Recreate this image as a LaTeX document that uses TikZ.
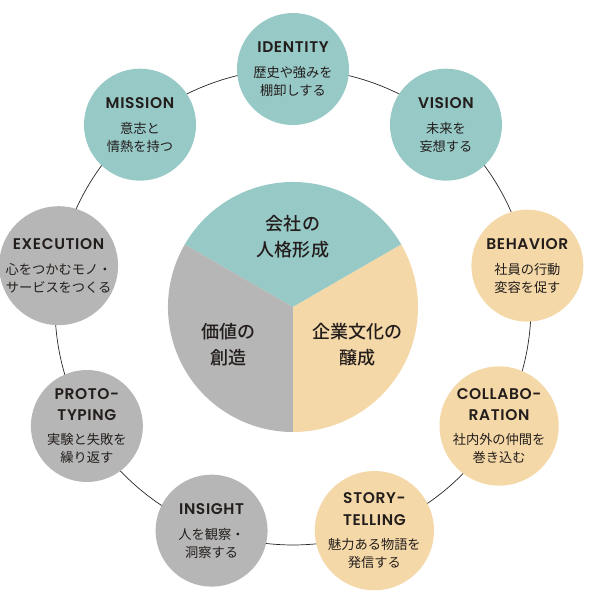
\documentclass[tikz,border=0pt]{standalone}
\usepackage{fontspec}
\setmainfont{Noto Sans CJK JP}
\newfontfamily\hdfont{Poppins}[UprightFont={* SemiBold}, LetterSpace=4]
\newfontfamily\midfont{Noto Sans CJK JP}[UprightFont={* Medium}]
\usetikzlibrary{backgrounds}
\definecolor{tealc}{RGB}{151,201,199}
\definecolor{peachc}{RGB}{245,216,168}
\definecolor{grayc}{RGB}{182,182,182}
\definecolor{inkc}{RGB}{35,30,28}
\newcommand\hd[1]{{\hdfont\fontsize{13.2}{15.3}\selectfont #1}}
\begin{document}
\begin{tikzpicture}[line width=0.6pt, text=inkc,
  bub/.style={circle, minimum size=3.36cm, inner sep=0pt, align=center,
    font=\fontsize{11.3}{15.3}\selectfont},
  tl/.style={bub, fill=tealc},
  pc/.style={bub, fill=peachc},
  gr/.style={bub, fill=grayc},
  pie/.style={align=center, inner sep=0pt, font=\midfont\fontsize{15.4}{22.2}\selectfont},
  ring/.style={draw=black!85, line width=0.6pt, bend left=20, looseness=0.88}]
  \useasboundingbox (-8.79,-8.73) rectangle (8.97,9.21);
  % 中央の円: 三つの扇形
  \coordinate (ctr) at (0,0);
  \fill[tealc] (ctr) -- (30:3.75) arc (30:150:3.75) -- cycle;
  \fill[peachc] (ctr) -- (-90:3.75) arc (-90:30:3.75) -- cycle;
  \fill[grayc] (ctr) -- (150:3.75) arc (150:270:3.75) -- cycle;
  \node[pie] (p1) at (90:2.12) {会社の\\人格形成};
  \node[pie] (p2) at (330:2.24) {企業文化の\\醸成};
  \node[pie] (p3) at (210:2.24) {価値の\\創造};
  % 周りの九つの円 (半径 7.14, 40度おき)
  \node[tl] (ident) at (90:7.14) {\hd{IDENTITY}\\[6pt]歴史や強みを\\棚卸しする};
  \node[tl] (vis) at (50:7.14) {\hd{VISION}\\[6pt]未来を\\妄想する};
  \node[pc] (beh) at (10:7.14) {\hd{BEHAVIOR}\\[6pt]社員の行動\\変容を促す};
  \node[pc] (coll) at (-30:7.14) {\hd{COLLABO-}\\[3pt]\hd{RATION}\\[5pt]社内外の仲間を\\巻き込む};
  \node[pc] (story) at (-70:7.14) {\hd{STORY-}\\[3pt]\hd{TELLING}\\[5pt]魅力ある物語を\\発信する};
  \node[gr] (ins) at (-110:7.14) {\hd{INSIGHT}\\[6pt]人を観察・\\洞察する};
  \node[gr] (proto) at (-150:7.14) {\hd{PROTO-}\\[3pt]\hd{TYPING}\\[5pt]実験と失敗を\\繰り返す};
  \node[gr] (exec) at (170:7.14) {\hd{EXECUTION}\\[6pt]心をつかむモノ・\\サービスをつくる};
  \node[tl] (miss) at (130:7.14) {\hd{MISSION}\\[6pt]意志と\\情熱を持つ};
  % 円をつなぐ弧 (時計回り)
  \begin{scope}[on background layer]
    \draw[ring] (ident.center) to (vis.center);
    \draw[ring] (vis.center) to (beh.center);
    \draw[ring] (beh.center) to (coll.center);
    \draw[ring] (coll.center) to (story.center);
    \draw[ring] (story.center) to (ins.center);
    \draw[ring] (ins.center) to (proto.center);
    \draw[ring] (proto.center) to (exec.center);
    \draw[ring] (exec.center) to (miss.center);
    \draw[ring] (miss.center) to (ident.center);
  \end{scope}
\end{tikzpicture}
\end{document}
